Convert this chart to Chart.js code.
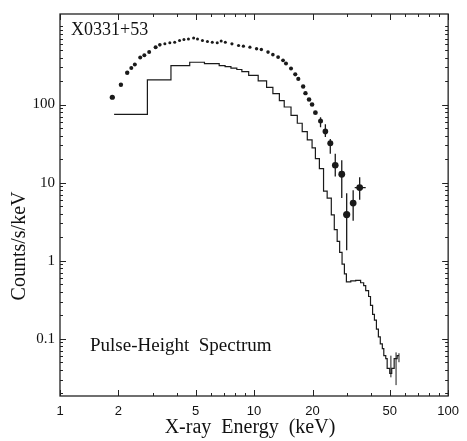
<!DOCTYPE html>
<html><head><meta charset="utf-8">
<script src="https://cdn.jsdelivr.net/npm/chart.js@4"></script>
<style>html,body{margin:0;padding:0;background:#fff}</style>
</head><body>
<canvas id="c" width="467" height="441" style="width:467px;height:441px;display:block"></canvas>
<script>
// ---- Pulse-height spectrum (histogram): bin edges (keV) and counts/s/keV ----
const histEdges = [1.90, 2.82, 3.73, 4.66, 5.55, 6.61, 7.09, 7.60, 8.15, 8.65,
  9.38, 10.5, 11.6, 12.5, 13.5, 14.3, 15.5, 16.7, 17.7, 18.8,
  19.9, 20.7, 21.7, 22.8, 23.8, 25.0, 25.9, 26.8, 27.6, 28.4,
  29.2, 29.9, 31.5, 33.4, 35.4, 36.7, 37.6, 38.9, 39.8, 40.8,
  41.7, 42.7, 43.7, 44.7, 45.8, 46.6, 47.7, 48.5, 50.0, 51.2,
  52.7, 54.6, 55.8];
const histCounts = [74.8, 207, 315, 348, 334, 315, 306, 293, 281, 264,
  237, 201, 166, 138, 112, 93.0, 72.6, 57.6, 44.9, 35.2,
  27.9, 20.3, 15.1, 7.77, 6.34, 3.87, 2.50, 1.77, 1.28, 0.905,
  0.678, 0.537, 0.553, 0.561, 0.522, 0.479, 0.414, 0.348, 0.268, 0.206,
  0.173, 0.133, 0.106, 0.0863, 0.0746, 0.0608, 0.0558, 0.0417, 0.0361, 0.0417,
  0.0558, 0.0608];
const histErrEnergy = [50.7, 53.9, 55.8];
const histErrLow = [0.0321, 0.0255, 0.0501];
const histErrHigh = [0.0608, 0.0670, 0.0653];

// ---- Dotted spectrum ----
const dotEnergy = [1.86, 2.06, 2.22, 2.33, 2.43, 2.59, 2.72, 2.88, 3.11, 3.27,
  3.47, 3.68, 3.90, 4.13, 4.35, 4.59, 4.88, 5.11, 5.42, 5.75,
  6.09, 6.46, 6.77, 7.11, 7.69, 8.32, 8.81, 9.52, 10.3, 10.9,
  11.8, 12.5, 13.3, 14.1, 14.6, 15.5, 16.3, 16.9, 17.9, 18.4,
  19.2, 19.9, 20.7, 22.0, 23.3, 24.7, 26.2, 28.3, 30.0, 32.4, 35.0];
const dotCounts = [124, 179, 255, 295, 326, 400, 428, 470, 543, 582,
  600, 618, 629, 660, 680, 693, 714, 693, 660, 641,
  629, 618, 650, 629, 600, 571, 560, 544, 519, 508,
  470, 436, 406, 369, 335, 290, 244, 213, 170, 140,
  116, 100, 78.6, 61.6, 45.3, 31.9, 16.7, 12.8, 3.90, 5.48, 8.65];
const dotSize = [2.6, 2.2, 2.2, 2, 2, 2, 2, 2, 2, 1.8,
  1.5, 1.5, 1.5, 1.5, 1.5, 1.5, 1.5, 1.5, 1.5, 1.5,
  1.5, 1.5, 1.5, 1.5, 1.6, 1.6, 1.6, 1.6, 1.7, 1.7,
  1.8, 1.8, 1.9, 1.9, 2, 2, 2.1, 2.1, 2.2, 2.2,
  2.3, 2.3, 2.4, 2.5, 2.8, 3, 3.3, 3.4, 3.6, 3.4, 3.4];
const errEnergy = [22.0, 23.3, 24.7, 26.2, 28.3, 30.0, 32.4, 35.0];
const errLow =  [51.3, 38.4, 23.4, 12.0, 6.34, 1.36, 3.25, 6.04];
const errHigh = [68.6, 56.0, 36.2, 23.4, 19.3, 7.33, 8.00, 11.7];
const xErrCounts = [16.7, 8.65];
const xErrLow = [25.3, 33.0];
const xErrHigh = [27.1, 37.6];

// ---- Axes ----
const xTickValues = [1,2,3,4,5,6,7,8,9,10,20,30,40,50,60,70,80,90,100];
const xTickLabels = {1:'1',2:'2',5:'5',10:'10',20:'20',50:'50',100:'100'};
const yTickValues = [0.02,0.03,0.04,0.05,0.06,0.07,0.08,0.09,0.1,0.2,0.3,0.4,0.5,0.6,0.7,0.8,0.9,
  1,2,3,4,5,6,7,8,9,10,20,30,40,50,60,70,80,90,100,200,300,400,500,600,700,800,900,1000];
const yTickLabels = {0.1:'0.1',1:'1',10:'10',100:'100'};

const ink = '#1a1a1a';

const histPoints = histCounts.map((v,i)=>({x:histEdges[i], y:v}));
histPoints.push({x:histEdges[histEdges.length-1], y:histCounts[histCounts.length-1]});

const datasets = [
  {type:'line', data:histPoints, stepped:'before', borderColor:ink, borderWidth:1.2, pointRadius:0, fill:false, order:2},
  {type:'scatter', data:dotEnergy.map((e,i)=>({x:e,y:dotCounts[i]})), pointRadius:dotSize, pointBackgroundColor:ink, pointBorderWidth:0, showLine:false, order:1}
];
errEnergy.forEach((e,i)=>datasets.push({type:'line', data:[{x:e,y:errLow[i]},{x:e,y:errHigh[i]}], borderColor:ink, borderWidth:1.3, pointRadius:0}));
xErrCounts.forEach((c,i)=>datasets.push({type:'line', data:[{x:xErrLow[i],y:c},{x:xErrHigh[i],y:c}], borderColor:ink, borderWidth:1.3, pointRadius:0}));
histErrEnergy.forEach((e,i)=>datasets.push({type:'line', data:[{x:e,y:histErrLow[i]},{x:e,y:histErrHigh[i]}], borderColor:ink, borderWidth:1, pointRadius:0}));

const frame = {
  id:'frame',
  afterDraw(chart){
    const {ctx, chartArea:a, scales} = chart;
    ctx.save();
    ctx.strokeStyle = '#222'; ctx.lineWidth = 1.3;
    ctx.strokeRect(a.left, a.top, a.right-a.left, a.bottom-a.top);
    ctx.lineWidth = 1;
    scales.x.ticks.forEach(t=>{
      const px = Math.round(scales.x.getPixelForValue(t.value))+0.5;
      const L = xTickLabels[t.value] ? 6 : 3;
      ctx.beginPath(); ctx.moveTo(px,a.bottom); ctx.lineTo(px,a.bottom-L);
      ctx.moveTo(px,a.top); ctx.lineTo(px,a.top+L); ctx.stroke();
    });
    scales.y.ticks.forEach(t=>{
      const py = Math.round(scales.y.getPixelForValue(t.value))+0.5;
      const L = yTickLabels[t.value] ? 6 : 3;
      ctx.beginPath(); ctx.moveTo(a.left,py); ctx.lineTo(a.left+L,py);
      ctx.moveTo(a.right,py); ctx.lineTo(a.right-L,py); ctx.stroke();
    });
    ctx.fillStyle = '#111';
    ctx.textBaseline = 'alphabetic'; ctx.textAlign = 'left';
    ctx.font = '18px "Liberation Serif", serif';
    ctx.fillText('X0331+53', 71, 35);
    ctx.font = '19px "Liberation Serif", serif';
    ctx.fillText('Pulse-Height  Spectrum', 90, 351);
    ctx.font = '20px "Liberation Serif", serif';
    ctx.textAlign = 'center';
    ctx.fillText('X-ray  Energy  (keV)', 250, 433);
    ctx.translate(25, 246); ctx.rotate(-Math.PI/2);
    ctx.fillText('Counts/s/keV', 0, 0);
    ctx.restore();
  }
};

new Chart(document.getElementById('c'), {
  data:{datasets},
  options:{
    responsive:false, animation:false,
    layout:{padding:{top:8,right:12,left:0,bottom:0}},
    plugins:{legend:{display:false}, tooltip:{enabled:false}},
    scales:{
      x:{type:'logarithmic', position:'bottom', min:1, max:100,
        afterBuildTicks:s=>{s.ticks = xTickValues.map(v=>({value:v}));},
        afterFit:s=>{s.height = 45;},
        grid:{display:false, drawTicks:false}, border:{display:false},
        ticks:{autoSkip:false, maxRotation:0, padding:8, color:'#111',
          font:{family:'"Liberation Sans", Arial, sans-serif', size:13},
          callback:v=>xTickLabels[v]||''}},
      y:{type:'logarithmic', position:'left', min:0.0185, max:1445,
        afterBuildTicks:s=>{s.ticks = yTickValues.map(v=>({value:v}));},
        afterFit:s=>{s.width = 60;},
        grid:{display:false, drawTicks:false}, border:{display:false},
        ticks:{autoSkip:false, padding:5, color:'#111',
          font:{family:'"Liberation Serif", serif', size:15},
          callback:v=>yTickLabels[v]||''}}
    }
  },
  plugins:[frame]
});
</script>
</body></html>
